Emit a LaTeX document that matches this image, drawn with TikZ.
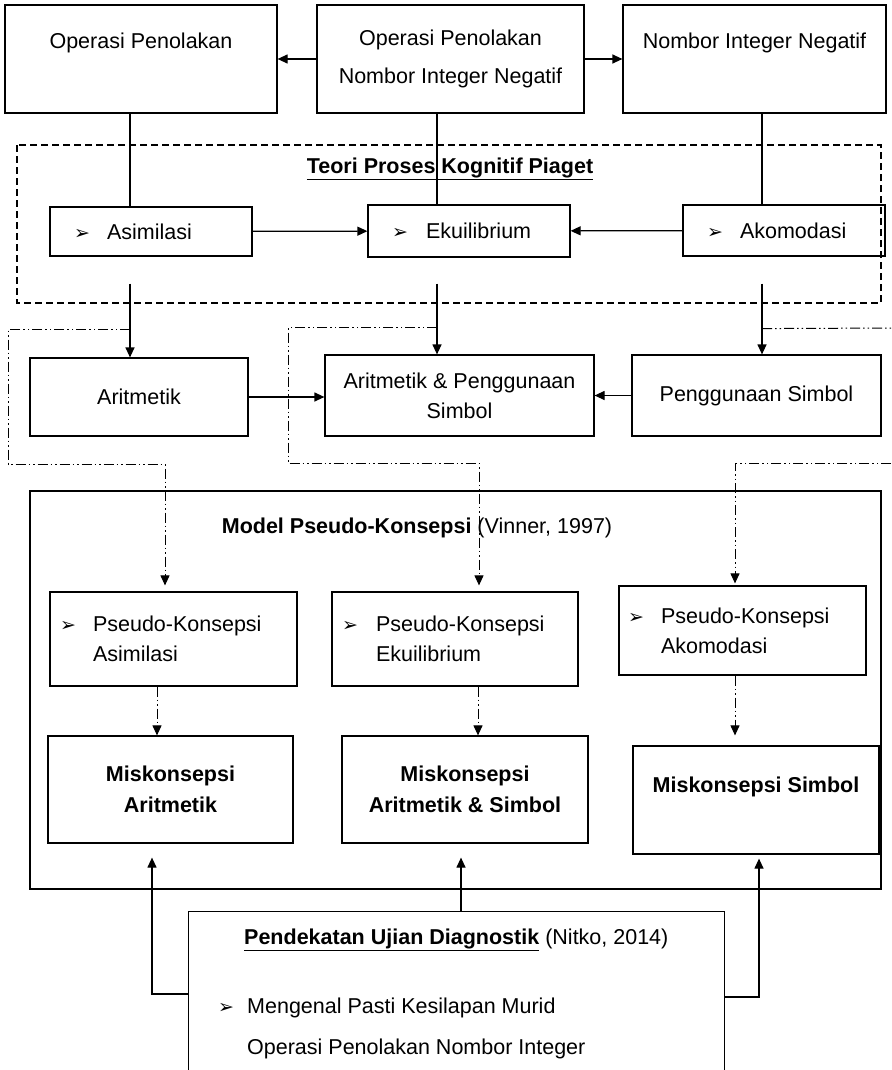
\documentclass[tikz,border=0pt]{standalone}
\usepackage{fontspec}
\setmainfont{Liberation Sans}
\newfontfamily\symfont{DejaVu Sans}
\usetikzlibrary{arrows.meta}
\usetikzlibrary{positioning}

\newcommand{\tanda}{{\symfont\fontsize{19}{19}\selectfont\char"27A2}}

\tikzset{
  >={Triangle[length=10pt,width=9pt]},
  kotak/.style={draw, line width=1.2pt, inner sep=0pt, align=center,
    font=\fontsize{21.5}{30}\selectfont},
  kotakatas/.style={kotak, minimum height=108pt,
    font=\fontsize{21.5}{36}\selectfont},
  kotaktebal/.style={kotak, font=\bfseries\fontsize{21.5}{31}\selectfont},
  senarai/.style={kotak, align=left, inner xsep=#1},
  garis/.style={line width=1.2pt},
  titik/.style={line width=1pt,
    dash pattern=on 10pt off 3pt on 1.5pt off 3pt on 1.5pt off 3pt},
  tajuk/.style={inner sep=0pt, font=\fontsize{21.5}{30}\selectfont}
}

\begin{document}
\begin{tikzpicture}[x=1pt,y=-1pt]
\useasboundingbox (0,0) rectangle (891,1070);
\clip (0,0) rectangle (891,1070);
% baris atas
\node[kotakatas, minimum width=272pt] (opp) at (141,59) {Operasi Penolakan\\~};
\node[kotakatas, minimum width=267pt] (opn) at (450.5,59) {Operasi Penolakan\\[1.5pt]Nombor Integer Negatif};
\node[kotakatas, minimum width=263pt] (nin) at (754.5,59) {Nombor Integer Negatif\\~};
\draw[garis,->] (opn.west) -- (opp.east);
\draw[garis,->] (opn.east) -- (nin.west);
% teori Piaget
\draw[line width=1.1pt, dash pattern=on 7pt off 4pt] (17,145) rectangle (881,303);
\node[tajuk] (tkp) at (450,169) {\underline{\textbf{Teori Proses Kognitif Piaget}}};
\node[senarai=24pt, text width=154pt, minimum width=202pt, minimum height=49pt] (asm) at (151,231.5) {\makebox[33pt][l]{\tanda}Asimilasi};
\node[senarai=24pt, text width=154pt, minimum width=202pt, minimum height=52pt] (eku) at (469,231) {\makebox[34pt][l]{\tanda}Ekuilibrium};
\node[senarai=24pt, text width=154pt, minimum width=202pt, minimum height=51pt] (ako) at (784,230.5) {\makebox[33pt][l]{\tanda}Akomodasi};
\draw[garis] (opp.south -| 130,0) -- (asm.north -| 130,0);
\draw[garis] (opn.south -| 437,0) -- (eku.north -| 437,0);
\draw[garis] (nin.south -| 762,0) -- (ako.north -| 762,0);
\draw[garis,->] (asm) -- (eku);
\draw[garis,->] (ako) -- (eku);
% aritmetik & simbol
\node[kotak, minimum width=218pt, minimum height=78pt] (ari) at (139,397) {Aritmetik};
\node[kotak, minimum width=269pt, minimum height=81pt] (aps) at (459.5,395.5) {Aritmetik \& Penggunaan\\Simbol};
\node[kotak, minimum width=249pt, minimum height=81pt] (pgs) at (756.5,395.5) {Penggunaan Simbol};
\draw[garis,->] (asm.south -| 130,0) ++(0,27) -- (ari.north -| 130,0);
\draw[garis,->] (eku.south -| 437,0) ++(0,26) -- (aps.north -| 437,0);
\draw[garis,->] (ako.south -| 762,0) ++(0,27) -- (pgs.north -| 762,0);
\draw[garis,->] (ari.east) -- (ari.east -| aps.west);
\draw[garis,->] (pgs.west) -- (pgs.west -| aps.east);
% model pseudo-konsepsi
\draw[garis] (30,491) rectangle (881,889);
\node[tajuk] (mpk) at (417,528) {\textbf{Model Pseudo-Konsepsi} (Vinner, 1997)};
\node[senarai=10pt, text width=227pt, minimum width=247pt, minimum height=94pt] (pka) at (173.5,639) {\makebox[33pt][l]{\tanda}Pseudo-Konsepsi\\\hspace*{33pt}Asimilasi};
\node[senarai=10pt, text width=226pt, minimum width=246pt, minimum height=94pt] (pke) at (455,639) {\makebox[34pt][l]{\tanda}Pseudo-Konsepsi\\\hspace*{34pt}Ekuilibrium};
\node[senarai=9pt, text width=229pt, minimum width=247pt, minimum height=89pt] (pkk) at (742.5,630.5) {\makebox[33pt][l]{\tanda}Pseudo-Konsepsi\\\hspace*{33pt}Akomodasi};
\coordinate (ujung1) at (891,328);
\coordinate (ujung2) at (891,463);
\draw[titik,->,shorten >=6pt] (asm.south -| 130,0) ++(0,73) -| (8,464) -| (pka.north -| 165,0);
\draw[titik,->,shorten >=6pt] (eku.south -| 437,0) ++(0,70) -| (288,463) -| (pke.north -| 479,0);
\draw[titik] (ako.south -| 762,0) ++(0,72) -- (ujung1);
\draw[titik,->,shorten >=2pt] (ujung2) -| (pkk.north -| 735,0);
% miskonsepsi
\node[kotaktebal, minimum width=245pt, minimum height=107pt] (mka) at (170.5,789.5) {Miskonsepsi\\Aritmetik};
\node[kotaktebal, minimum width=246pt, minimum height=107pt] (mkas) at (465,789.5) {Miskonsepsi\\Aritmetik \& Simbol};
\node[kotaktebal, minimum width=246pt, minimum height=108pt] (mks) at (756,800) {Miskonsepsi Simbol\\~};
\draw[titik,->] (pka.south -| 157,0) -- (mka.north -| 157,0);
\draw[titik,->] (pke.south -| 478,0) -- (mkas.north -| 478,0);
\draw[titik,->,shorten >=10pt] (pkk.south -| 735,0) -- (mks.north -| 735,0);
% ujian diagnostik
\node[draw, line width=1.2pt, anchor=north west, minimum width=536pt, minimum height=200pt] (pud) at (188,911) {};
\node[tajuk, anchor=west] (pudj) at (244,940) {\underline{\textbf{Pendekatan Ujian Diagnostik}} (Nitko, 2014)};
\node[tajuk, anchor=west] (pudb) at (218,1008) {\makebox[29pt][l]{\tanda}Mengenal Pasti Kesilapan Murid};
\node[tajuk, anchor=west] (pudc) at (247,1049) {Operasi Penolakan Nombor Integer};
\draw[garis,->,shorten >=14pt] (pud.west |- 0,994) -| (mka.south -| 152,0);
\draw[garis,->,shorten >=14pt] (pud.north -| 461,0) -- (mkas.south -| 461,0);
\draw[garis,->,shorten >=4pt] (pud.east |- 0,997) -| (mks.south -| 759,0);
\end{tikzpicture}
\end{document}
